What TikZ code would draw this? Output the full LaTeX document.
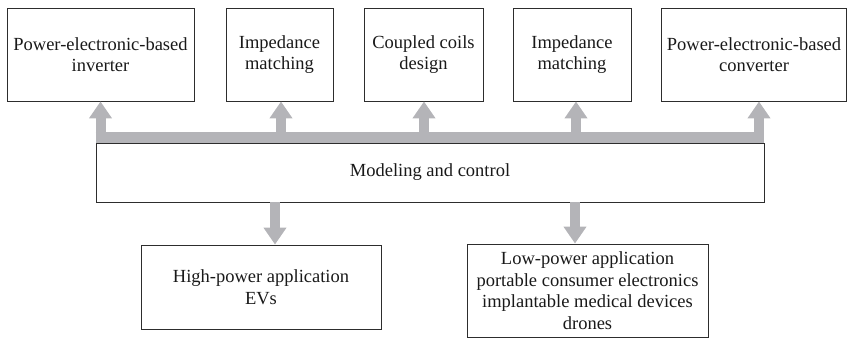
\documentclass[tikz,border=0pt]{standalone}
\usepackage{fontspec}
\setmainfont{Liberation Serif}
\usetikzlibrary{arrows.meta,calc}
\definecolor{edge}{RGB}{45,45,45}
\definecolor{fat}{RGB}{180,180,184}
\tikzset{
  box/.style={draw=edge, line width=0.9pt, align=center, inner sep=2pt,
    font=\fontsize{18.5}{21.5}\selectfont, text=black!90},
  fatarrow/.style={draw=fat, line width=10pt, -{Triangle[width=22pt,length=17pt]}},
  bus/.style={draw=fat, line width=11pt}
}
\begin{document}
\begin{tikzpicture}[x=1pt,y=-1pt]
\useasboundingbox (0,0) rectangle (848,340);
\node[box, minimum width=187pt, minimum height=93pt] (b1) at (100.5,54.5) {Power-electronic-based\\inverter};
\node[box, minimum width=107pt, minimum height=93pt] (b2) at (279.5,54.5) {Impedance\\matching};
\node[box, minimum width=119pt, minimum height=93pt] (b3) at (423.5,54.5) {Coupled coils\\design};
\node[box, minimum width=118pt, minimum height=93pt] (b4) at (572,54.5) {Impedance\\matching};
\node[box, minimum width=185pt, minimum height=93pt] (b5) at (754,54.5) {Power-electronic-based\\converter};
\node[box, minimum width=668pt, minimum height=59pt] (model) at (430,172.5) {Modeling and control};
\node[box, minimum width=240pt, minimum height=84pt] (hp) at (261,287) {High-power application\\EVs};
\node[box, minimum width=241pt, minimum height=93pt] (lp) at (587.5,290.5) {Low-power application\\portable consumer electronics\\implantable medical devices\\drones};
% bus
\coordinate (busW) at ($(model.north west)+(0,-5.5)$);
\coordinate (busE) at ($(model.north east)+(0,-5.5)$);
\draw[bus] (busW) -- (busE);
% upward arrows
\coordinate (u1) at ($(b1.south)+(0,0)$);
\coordinate (u2) at ($(b2.south)+(1.5,0)$);
\coordinate (u3) at ($(b3.south)+(0.5,0)$);
\coordinate (u4) at ($(b4.south)+(4,0)$);
\coordinate (u5) at ($(b5.south)+(5,0)$);
\foreach \u in {u1,u2,u3,u4,u5}{
  \draw[fatarrow] (\u |- busW) -- (\u);
}
% downward arrows
\coordinate (d1) at ($(hp.north)+(14,0)$);
\coordinate (d2) at ($(lp.north)+(-12.5,0)$);
\draw[fatarrow] (model.south -| d1) -- (d1);
\draw[fatarrow] (model.south -| d2) -- (d2);
\end{tikzpicture}
\end{document}
